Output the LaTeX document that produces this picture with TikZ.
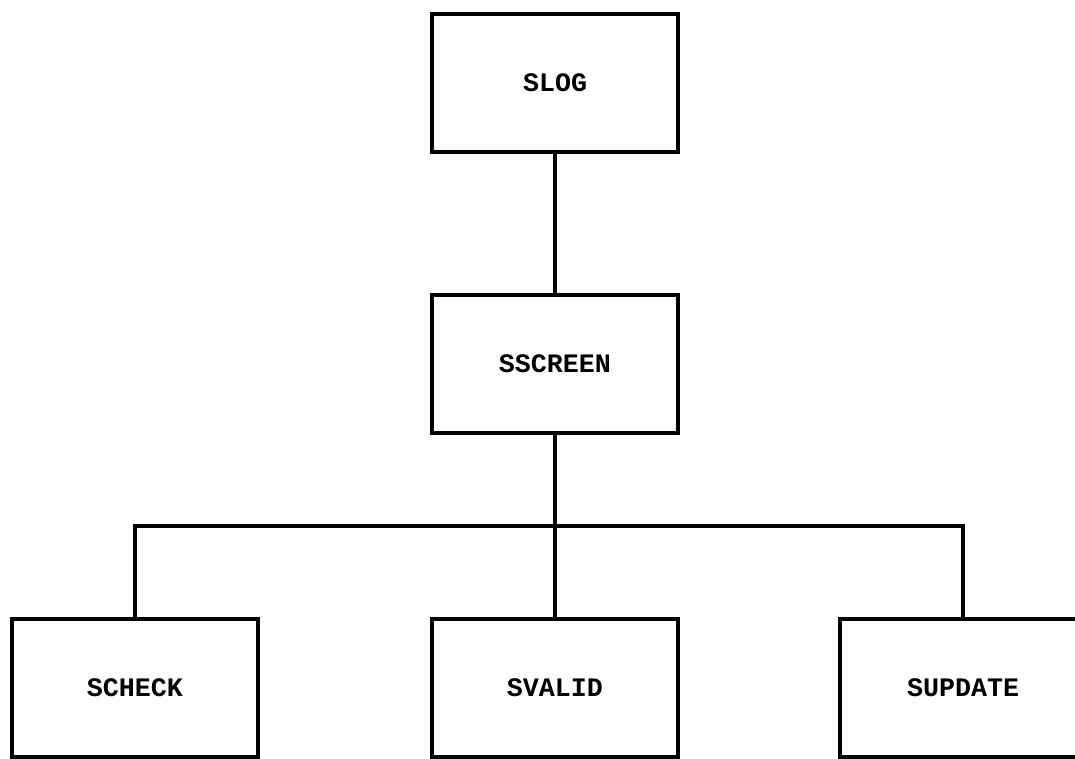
\documentclass[tikz,border=0pt]{standalone}
\usepackage{fontspec}
\newfontfamily\typew{Liberation Mono}
\begin{document}
\begin{tikzpicture}[x=0.75pt,y=-0.75pt,
  modbox/.style={draw=black,line width=3pt,rectangle,minimum width=185pt,minimum height=104pt,inner sep=0pt,font=\typew\bfseries\fontsize{20}{22}\selectfont},
  conn/.style={draw=black,line width=3pt}]
\useasboundingbox (0,0) rectangle (1075,759);
\node[modbox] (slog) at (555,83) {SLOG};
\node[modbox] (sscreen) at (555,364) {SSCREEN};
\node[modbox] (scheck) at (135,688) {SCHECK};
\node[modbox] (svalid) at (555,688) {SVALID};
\node[modbox] (supdate) at (963,688) {SUPDATE};
\coordinate (bus) at (555,526);
\draw[conn] (slog) -- (sscreen);
\draw[conn] (sscreen) -- (svalid);
\draw[conn] (scheck.north) |- (bus) -| (supdate.north);
\end{tikzpicture}
\end{document}
